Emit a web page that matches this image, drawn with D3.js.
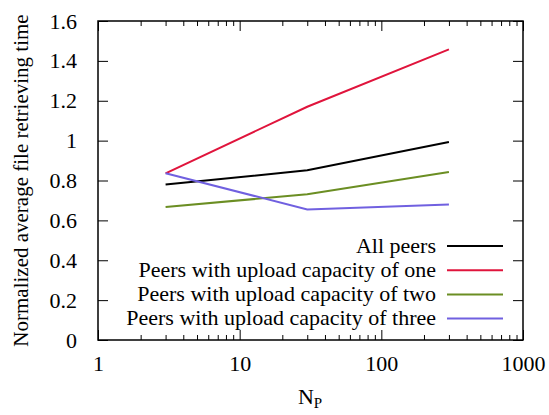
<!DOCTYPE html>
<html>
<head>
<meta charset="utf-8">
<script src="https://cdn.jsdelivr.net/npm/d3@7"></script>
</head>
<body style="margin:0">
<svg id="fig" width="549" height="415"></svg>
<script>
const NP = [3, 30, 300];
const ALL_PEERS = [0.78, 0.851, 0.993];
const CAP_ONE = [0.836, 1.17, 1.458];
const CAP_TWO = [0.667, 0.731, 0.843];
const CAP_THREE = [0.836, 0.655, 0.68];
const SERIES_NAMES = [
  'All peers',
  'Peers with upload capacity of one',
  'Peers with upload capacity of two',
  'Peers with upload capacity of three'
];
const Y_TICKS = [0, 0.2, 0.4, 0.6, 0.8, 1, 1.2, 1.4, 1.6];
const X_TICKS = [1, 10, 100, 1000];

const COLORS = ['#000000', '#e0143c', '#6b8e23', '#7060e0'];
const FONT = '"Liberation Serif", "Tinos", serif';
const FS = 22;
const M = { left: 98, right: 523, top: 21, bottom: 340 };

const svg = d3.select('#fig');

const x = d3.scaleLog().domain([1, 1000]).range([M.left, M.right]);
const y = d3.scaleLinear().domain([0, 1.6]).range([M.bottom, M.top]);

const minorX = [];
for (let d = 1; d < 1000; d *= 10) {
  for (let k = 2; k <= 9; k++) minorX.push(d * k);
}

const setFont = (sel, size) => sel
  .style('font-family', FONT, 'important')
  .style('font-size', (size || FS) + 'px', 'important');

// axes with inward ticks, mirrored on top/right
const axisStyle = g => {
  g.attr('font-family', null).attr('font-size', null);
  g.select('.domain').remove();
  g.selectAll('line').attr('stroke', '#000').attr('stroke-width', 1);
  g.selectAll('text').attr('fill', '#000').call(setFont);
};

svg.append('g')
  .attr('transform', `translate(${M.left},0)`)
  .call(d3.axisLeft(y).tickValues(Y_TICKS).tickFormat(d3.format('')).tickSizeInner(-10).tickPadding(21))
  .call(axisStyle);

svg.append('g')
  .attr('transform', `translate(${M.right},0)`)
  .call(d3.axisRight(y).tickValues(Y_TICKS).tickSizeInner(-10).tickFormat(''))
  .call(axisStyle);

svg.append('g')
  .attr('transform', `translate(0,${M.bottom})`)
  .call(d3.axisBottom(x).tickValues(X_TICKS).tickFormat(d3.format('')).tickSizeInner(-10).tickPadding(15))
  .call(axisStyle);

svg.append('g')
  .attr('transform', `translate(0,${M.bottom})`)
  .call(d3.axisBottom(x).tickValues(minorX).tickSizeInner(-5).tickFormat(''))
  .call(axisStyle);

svg.append('g')
  .attr('transform', `translate(0,${M.top})`)
  .call(d3.axisTop(x).tickValues(X_TICKS).tickSizeInner(-10).tickFormat(''))
  .call(axisStyle);

svg.append('g')
  .attr('transform', `translate(0,${M.top})`)
  .call(d3.axisTop(x).tickValues(minorX).tickSizeInner(-5).tickFormat(''))
  .call(axisStyle);

// frame
svg.append('rect')
  .attr('x', M.left).attr('y', M.top)
  .attr('width', M.right - M.left).attr('height', M.bottom - M.top)
  .attr('fill', 'none').attr('stroke', '#000').attr('stroke-width', 1.5);

// series
const allSeries = [ALL_PEERS, CAP_ONE, CAP_TWO, CAP_THREE];
const line = d3.line().x(d => x(d[0])).y(d => y(d[1]));

allSeries.forEach((vals, i) => {
  svg.append('path')
    .datum(NP.map((n, j) => [n, vals[j]]))
    .attr('fill', 'none')
    .attr('stroke', COLORS[i])
    .attr('stroke-width', 2)
    .attr('d', line);
});

// legend
const legend = svg.append('g');
SERIES_NAMES.forEach((name, i) => {
  const ly = 246 + i * 24.2;
  legend.append('text')
    .attr('x', 436).attr('y', ly + 6.5)
    .attr('text-anchor', 'end')
    .call(setFont)
    .text(name);
  legend.append('line')
    .attr('x1', 447).attr('x2', 503)
    .attr('y1', ly).attr('y2', ly)
    .attr('stroke', COLORS[i]).attr('stroke-width', 2);
});

// axis labels
svg.append('text')
  .attr('transform', `translate(28,${(M.top + M.bottom) / 2}) rotate(-90)`)
  .attr('text-anchor', 'middle')
  .call(setFont, 21)
  .text('Normalized average file retrieving time');

const xl = svg.append('text')
  .attr('x', 310).attr('y', 404)
  .attr('text-anchor', 'middle')
  .call(setFont);
xl.append('tspan').text('N');
xl.append('tspan').call(setFont, 15).attr('dy', 4).text('P');
</script>
</body>
</html>
